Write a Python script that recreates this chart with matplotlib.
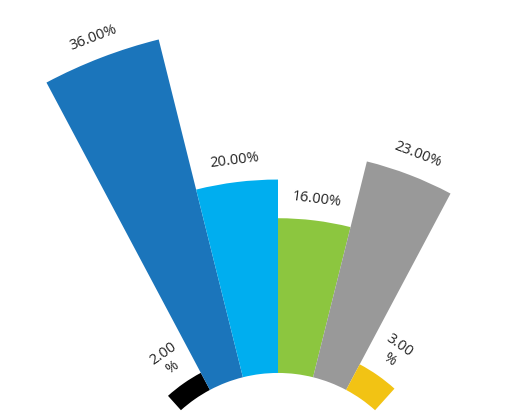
import numpy as np
import matplotlib.pyplot as plt

values = [2, 36, 20, 16, 23, 3]
labels = ["2.00\n%", "36.00%", "20.00%", "16.00%", "23.00%", "3.00\n%"]
colors = ["#000000", "#1b75bb", "#00aeef", "#8cc63f", "#999999", "#f2c314"]

plt.rcParams["font.family"] = ["Open Sans", "DejaVu Sans"]

W, H = 515, 411
fig = plt.figure(figsize=(W / 100, H / 100), dpi=100)

# polar centre sits below the picture
cx, cy = 278, 411 - 518
rmax = 60
scale = 9.67
rpx = rmax * scale
ax = fig.add_axes([(cx - rpx) / W, (cy - rpx) / H, 2 * rpx / W, 2 * rpx / H],
                  projection="polar")
ax.set_ylim(0, rmax)
ax.set_axis_off()

inner = 15
width = 14
start = 132
thetas = [start - width / 2 - i * width for i in range(len(values))]

ax.bar(np.deg2rad(thetas), values, width=np.deg2rad(width), bottom=inner,
       color=colors, align="center", linewidth=0)

for t, v, s in zip(thetas, values, labels):
    off = 2.9 if "\n" in s else 2.2
    ax.text(np.deg2rad(t), inner + v + off, s, rotation=t - 90,
            rotation_mode="anchor", ha="center", va="center",
            multialignment="center", fontsize=10.5, color="#222222",
            linespacing=1.2)

fig.savefig("out.png", dpi=100)
